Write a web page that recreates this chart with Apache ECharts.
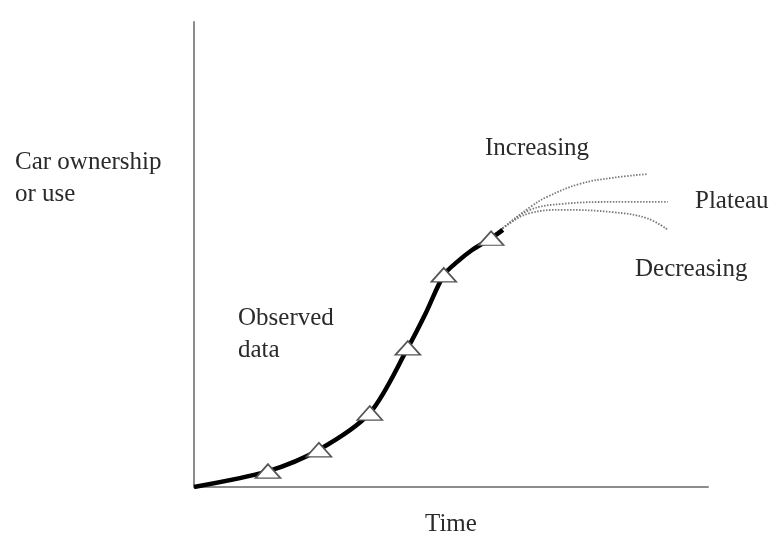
<!DOCTYPE html>
<html>
<head>
<meta charset="utf-8">
<script src="https://cdn.jsdelivr.net/npm/echarts@6/dist/echarts.min.js"></script>
<style>html,body{margin:0;padding:0;background:#fff}#c{width:770px;height:533px}</style>
</head>
<body>
<div id="c"></div>
<script>
// Observed data (time, level)
const observedX = [0, 14.4, 24.3, 34.2, 41.6, 45.1, 48.6, 51.2, 53.9, 57.8, 60.1];
const observedY = [0, 3.4, 8.0, 15.9, 29.9, 37.4, 45.6, 48.4, 50.8, 53.5, 55.3];
// Marker points (subset of observed)
const markerX = [14.4, 24.3, 34.2, 41.6, 48.6, 57.8];
const markerY = [3.4, 8.0, 15.9, 29.9, 45.6, 53.5];
// Scenario projections
const increasingX = [57.8, 60.1, 65.4, 68.7, 75.1, 81.5, 88.3];
const increasingY = [53.5, 55.7, 60.2, 62.4, 65.2, 66.5, 67.3];
const plateauX = [57.8, 60.1, 65.4, 71.8, 81.5, 92.2];
const plateauY = [53.5, 55.7, 59.6, 60.9, 61.3, 61.3];
const decreasingX = [57.8, 60.1, 65.4, 71.8, 81.5, 88.1, 92.2];
const decreasingY = [53.5, 55.7, 58.9, 59.6, 59.1, 57.8, 55.3];
// Labels
const yTitle = 'Car ownership\nor use';
const xTitle = 'Time';
const scenarioLabels = ['Increasing', 'Plateau', 'Decreasing'];
const observedLabel = 'Observed\ndata';

const zip = (a, b) => a.map((v, i) => [v, b[i]]);
const chart = echarts.init(document.getElementById('c'), null, {renderer: 'canvas'});
const font = 'Liberation Serif, Times New Roman, serif';
const txt = (x, y, t) => ({
  type: 'text', left: x, top: y,
  style: {text: t, font: '25px ' + font, fill: '#2a2a2a', lineHeight: 32}
});
const dotted = (d) => ({
  type: 'line', data: d, smooth: 0.4, showSymbol: false, z: 1,
  lineStyle: {color: '#7a7a7a', width: 1.8, type: [1.5, 1.5]}
});
chart.setOption({
  animation: false,
  grid: {left: 194, right: 62, top: 22, bottom: 46},
  xAxis: {type: 'value', min: 0, max: 100, splitLine: {show: false}, axisTick: {show: false}, axisLabel: {show: false},
    axisLine: {lineStyle: {color: '#8c8c8c', width: 2}}},
  yAxis: {type: 'value', min: 0, max: 100, splitLine: {show: false}, axisTick: {show: false}, axisLabel: {show: false},
    axisLine: {lineStyle: {color: '#8c8c8c', width: 2}}},
  series: [
    dotted(zip(increasingX, increasingY)),
    dotted(zip(plateauX, plateauY)),
    dotted(zip(decreasingX, decreasingY)),
    {type: 'line', data: zip(observedX, observedY), smooth: 0.3, showSymbol: false, z: 2,
      lineStyle: {color: '#000', width: 4.5}},
    {type: 'scatter', data: zip(markerX, markerY), symbol: 'triangle', symbolSize: [25, 14], z: 3,
      itemStyle: {color: '#fff', opacity: 1, borderColor: '#555', borderWidth: 1.6}}
  ],
  graphic: [
    txt(15, 146, yTitle),
    txt(485, 132, scenarioLabels[0]),
    txt(695, 185, scenarioLabels[1]),
    txt(635, 253, scenarioLabels[2]),
    txt(238, 302, observedLabel),
    txt(425, 508, xTitle)
  ]
});
</script>
</body>
</html>
